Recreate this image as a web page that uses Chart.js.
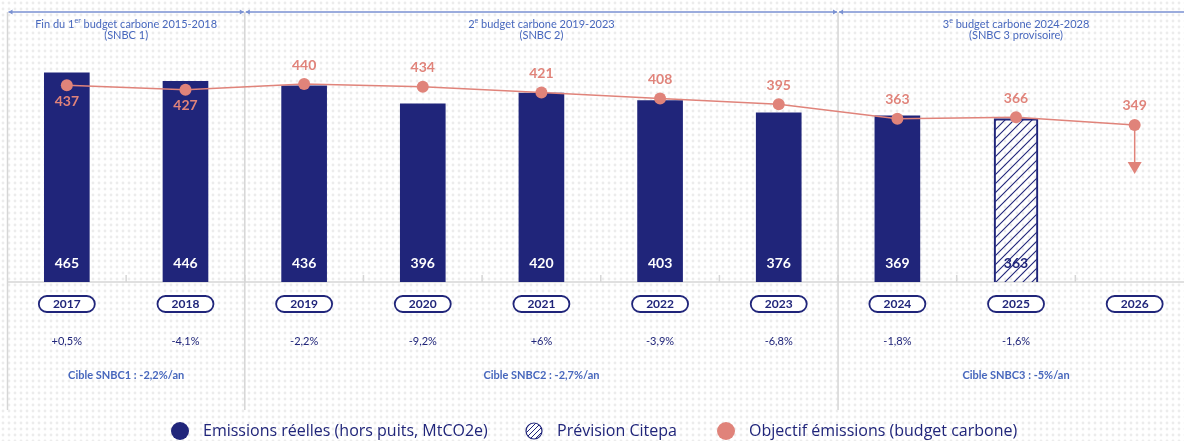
<!DOCTYPE html>
<html lang="fr">
<head>
<meta charset="utf-8">
<title>Budgets carbone - émissions</title>
<script src="https://cdn.jsdelivr.net/npm/chart.js@4.4.1/dist/chart.umd.min.js"></script>
<style>
  html, body { margin: 0; padding: 0; background: #fff; overflow: hidden; }
  #wrap { width: 1184px; height: 441px; overflow: hidden; }
  canvas { display: block; }
</style>
</head>
<body>
<div id="wrap"><canvas id="chart" width="1200" height="441"></canvas></div>
<script>
// Data
const years = ['2017', '2018', '2019', '2020', '2021', '2022', '2023', '2024', '2025', '2026'];
const emissionsReelles = [465, 446, 436, 396, 420, 403, 376, 369, null, null];
const previsionCitepa = [null, null, null, null, null, null, null, null, 363, null];
const objectifEmissions = [437, 427, 440, 434, 421, 408, 395, 363, 366, 349];
const variations = ['+0,5%', '-4,1%', '-2,2%', '-9,2%', '+6%', '-3,9%', '-6,8%', '-1,8%', '-1,6%', ''];
const periods = [
    { from: 0, to: 1, title: ['Fin du 1', 'er', ' budget carbone 2015-2018'], sub: '(SNBC 1)', cible: 'Cible SNBC1 : -2,2%/an' },
    { from: 2, to: 6, title: ['2', 'e', ' budget carbone 2019-2023'], sub: '(SNBC 2)', cible: 'Cible SNBC2 : -2,7%/an' },
    { from: 7, to: 9, title: ['3', 'e', ' budget carbone 2024-2028'], sub: '(SNBC 3 provisoire)', cible: 'Cible SNBC3 : -5%/an' }
];
const labelsBelow = [0, 1]; // objectif labels drawn under the point

// Colors
const colors = {
    navy: '#20257a',
    salmon: '#e0837a',
    blue: '#4767bd',
    header: '#7a91d2',
    grid: '#d6d6d6',
    dot: '#ececec'
};
const FONT = 'Lato, "Open Sans", sans-serif';
const LEGEND_FONT = '16px "Open Sans", Lato, sans-serif';

// Patterns
function makeDots() {
    const c = document.createElement('canvas');
    c.width = 6; c.height = 6;
    const g = c.getContext('2d');
    g.fillStyle = '#fff';
    g.fillRect(0, 0, 6, 6);
    g.fillStyle = colors.dot;
    g.beginPath();
    g.arc(3, 3, 1.4, 0, Math.PI * 2);
    g.fill();
    return c;
}

function makeHatch(ctx) {
    const s = 9;
    const c = document.createElement('canvas');
    c.width = s; c.height = s;
    const g = c.getContext('2d');
    g.strokeStyle = colors.navy;
    g.lineWidth = 1.1;
    g.beginPath();
    g.moveTo(-1, s + 1); g.lineTo(s + 1, -1);
    g.moveTo(-1, 1); g.lineTo(1, -1);
    g.moveTo(s - 1, s + 1); g.lineTo(s + 1, s - 1);
    g.stroke();
    return ctx.createPattern(c, 'repeat');
}

const canvas = document.getElementById('chart');
const ctx0 = canvas.getContext('2d');
const hatch = makeHatch(ctx0);
const dots = ctx0.createPattern(makeDots(), 'repeat');

function roundRect(ctx, x, y, w, h, r) {
    ctx.beginPath();
    ctx.moveTo(x + r, y);
    ctx.lineTo(x + w - r, y);
    ctx.arc(x + w - r, y + r, r, -Math.PI / 2, Math.PI / 2);
    ctx.lineTo(x + r, y + h);
    ctx.arc(x + r, y + r, r, Math.PI / 2, Math.PI * 1.5);
    ctx.closePath();
}

// text with a superscript part, centered on cx
function drawSupText(ctx, parts, cx, y) {
    const big = '11px ' + FONT, small = '7px ' + FONT;
    ctx.font = big; const w0 = ctx.measureText(parts[0]).width;
    ctx.font = small; const w1 = ctx.measureText(parts[1]).width;
    ctx.font = big; const w2 = ctx.measureText(parts[2]).width;
    let x = cx - (w0 + w1 + w2) / 2;
    ctx.textAlign = 'left';
    ctx.textBaseline = 'middle';
    ctx.font = big; ctx.fillText(parts[0], x, y); x += w0;
    ctx.font = small; ctx.fillText(parts[1], x, y - 3); x += w1;
    ctx.font = big; ctx.fillText(parts[2], x, y);
}

const decorPlugin = {
    id: 'decor',
    beforeDraw(chart) {
        const ctx = chart.ctx;
        ctx.save();
        ctx.fillStyle = dots;
        ctx.fillRect(0, 0, chart.width, chart.height);
        const x = chart.scales.x, y = chart.scales.y;
        const step = x.getPixelForValue(1) - x.getPixelForValue(0);
        const base = y.getPixelForValue(0);
        const left = x.getPixelForValue(0) - step / 2;
        const right = chart.width;

        // baseline + small ticks
        ctx.strokeStyle = colors.grid;
        ctx.lineWidth = 1.5;
        ctx.beginPath();
        ctx.moveTo(left, base); ctx.lineTo(right, base);
        for (let i = 1; i < years.length; i++) {
            const bx = x.getPixelForValue(i) - step / 2;
            ctx.moveTo(bx, base); ctx.lineTo(bx, base - 7);
        }
        ctx.stroke();

        // period separators
        const top = chart.chartArea.top;
        const bounds = [left];
        periods.slice(1).forEach(p => bounds.push(x.getPixelForValue(p.from) - step / 2));
        ctx.beginPath();
        bounds.forEach(bx => { ctx.moveTo(bx, top); ctx.lineTo(bx, 410); });
        ctx.stroke();
        ctx.restore();
    },
    afterDraw(chart) {
        const ctx = chart.ctx;
        const x = chart.scales.x, y = chart.scales.y;
        const step = x.getPixelForValue(1) - x.getPixelForValue(0);
        const top = chart.chartArea.top;
        ctx.save();

        // header arrows and titles
        periods.forEach(p => {
            const a = x.getPixelForValue(p.from) - step / 2;
            const b = x.getPixelForValue(p.to) + step / 2;
            ctx.strokeStyle = colors.header;
            ctx.fillStyle = colors.header;
            ctx.lineWidth = 1.5;
            ctx.beginPath();
            ctx.moveTo(a + 1, top); ctx.lineTo(b - 1, top);
            ctx.stroke();
            ctx.beginPath();
            ctx.moveTo(a + 1, top); ctx.lineTo(a + 5, top - 2.5); ctx.lineTo(a + 5, top + 2.5); ctx.closePath();
            ctx.moveTo(b - 1, top); ctx.lineTo(b - 5, top - 2.5); ctx.lineTo(b - 5, top + 2.5); ctx.closePath();
            ctx.fill();
            const cx = (a + b) / 2;
            ctx.fillStyle = colors.blue;
            drawSupText(ctx, p.title, cx, 24);
            ctx.textAlign = 'center';
            ctx.font = '11px ' + FONT;
            ctx.fillText(p.sub, cx, 35);
            ctx.font = 'bold 11px ' + FONT;
            ctx.fillText(p.cible, cx, 375);
        });

        // year pills + variations
        ctx.textAlign = 'center';
        ctx.textBaseline = 'middle';
        years.forEach((yr, i) => {
            const cx = x.getPixelForValue(i);
            ctx.fillStyle = '#fff';
            ctx.strokeStyle = colors.navy;
            ctx.lineWidth = 1.8;
            roundRect(ctx, cx - 28, 296, 56, 16, 8);
            ctx.fill();
            ctx.stroke();
            ctx.fillStyle = colors.navy;
            ctx.font = 'bold 12px ' + FONT;
            ctx.fillText(yr, cx, 304.5);
            ctx.font = '11px ' + FONT;
            ctx.fillText(variations[i], cx, 341);
        });

        // bar values
        [0, 1].forEach(di => {
            const meta = chart.getDatasetMeta(di);
            meta.data.forEach((bar, i) => {
                const v = chart.data.datasets[di].data[i];
                if (v == null) return;
                ctx.fillStyle = di === 0 ? '#fff' : colors.navy;
                ctx.font = 'bold 14px ' + FONT;
                ctx.fillText(String(v), bar.x, 263);
            });
        });

        // objectif values + arrow on last point
        const lineMeta = chart.getDatasetMeta(2);
        ctx.fillStyle = colors.salmon;
        ctx.font = 'bold 14px ' + FONT;
        lineMeta.data.forEach((pt, i) => {
            const below = labelsBelow.includes(i);
            ctx.fillText(String(objectifEmissions[i]), pt.x, below ? pt.y + 16 : pt.y - 19);
        });
        const last = lineMeta.data[lineMeta.data.length - 1];
        ctx.strokeStyle = colors.salmon;
        ctx.lineWidth = 1.5;
        ctx.beginPath();
        ctx.moveTo(last.x, last.y); ctx.lineTo(last.x, last.y + 38);
        ctx.stroke();
        ctx.beginPath();
        ctx.moveTo(last.x - 7, last.y + 37); ctx.lineTo(last.x + 7, last.y + 37); ctx.lineTo(last.x, last.y + 49);
        ctx.closePath();
        ctx.fill();

        // legend
        const ly = 431;
        ctx.textAlign = 'left';
        ctx.font = LEGEND_FONT;
        const items = [
            { x: 180, fill: colors.navy, text: chart.data.datasets[0].label },
            { x: 534, fill: 'hatch', text: chart.data.datasets[1].label },
            { x: 726, fill: colors.salmon, text: chart.data.datasets[2].label }
        ];
        items.forEach(it => {
            ctx.beginPath();
            ctx.arc(it.x, ly, it.fill === 'hatch' ? 8 : 9, 0, Math.PI * 2);
            if (it.fill === 'hatch') {
                ctx.fillStyle = '#fff';
                ctx.fill();
                ctx.save();
                ctx.clip();
                ctx.strokeStyle = colors.navy;
                ctx.lineWidth = 1;
                ctx.beginPath();
                for (let k = -16; k <= 16; k += 5) {
                    ctx.moveTo(it.x + k - 10, ly + 10); ctx.lineTo(it.x + k + 10, ly - 10);
                }
                ctx.stroke();
                ctx.restore();
                ctx.beginPath();
                ctx.arc(it.x, ly, 8, 0, Math.PI * 2);
                ctx.strokeStyle = colors.navy;
                ctx.lineWidth = 1.2;
                ctx.stroke();
            } else {
                ctx.fillStyle = it.fill;
                ctx.fill();
            }
            ctx.fillStyle = colors.navy;
            ctx.fillText(it.text, it.x + 23, ly);
        });
        ctx.restore();
    }
};

new Chart(canvas, {
    type: 'bar',
    data: {
        labels: years,
        datasets: [
            {
                label: 'Emissions réelles (hors puits, MtCO2e)',
                data: emissionsReelles,
                backgroundColor: colors.navy,
                barThickness: 45,
                grouped: false,
                order: 2
            },
            {
                label: 'Prévision Citepa',
                data: previsionCitepa,
                backgroundColor: hatch,
                borderColor: colors.navy,
                borderWidth: 1.5,
                barThickness: 44,
                grouped: false,
                order: 2
            },
            {
                type: 'line',
                label: 'Objectif émissions (budget carbone)',
                data: objectifEmissions,
                borderColor: colors.salmon,
                backgroundColor: colors.salmon,
                borderWidth: 1.5,
                pointRadius: 6,
                pointBorderWidth: 0,
                tension: 0,
                order: 1
            }
        ]
    },
    options: {
        responsive: false,
        animation: false,
        devicePixelRatio: 1,
        layout: { padding: { left: 7.5, right: 1.5, top: 12, bottom: 159 } },
        plugins: {
            legend: { display: false },
            tooltip: { enabled: false }
        },
        scales: {
            x: { display: false, offset: true },
            y: { display: false, min: 0, max: 600 }
        }
    },
    plugins: [decorPlugin]
});
</script>
</body>
</html>
